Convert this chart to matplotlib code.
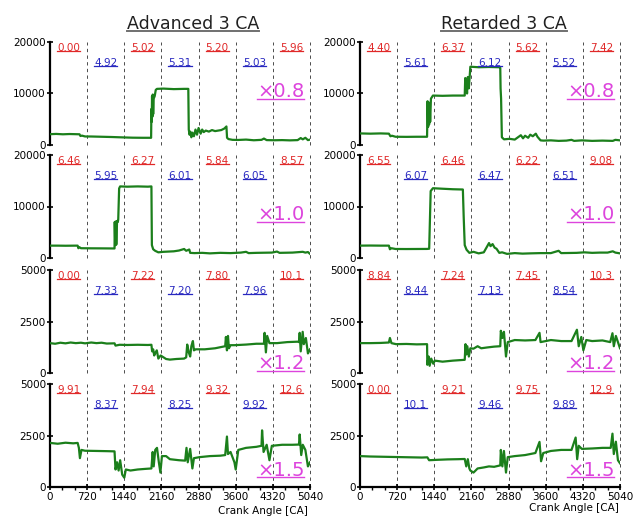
import matplotlib
matplotlib.use('Agg')
import matplotlib.pyplot as plt
from matplotlib.lines import Line2D
from matplotlib.ticker import MultipleLocator, FixedLocator

plt.rcParams['font.family'] = ['DejaVu Sans']

# ── 데이터 ──
TITLES = ['Advanced 3 CA', 'Retarded 3 CA']
FACTORS = ['×0.8', '×1.0', '×1.2', '×1.5']
Y_MAX = [20000, 20000, 5000, 5000]
SEG_LINES = [720, 1440, 2160, 2880, 3600, 4320, 5040]
RED_X = [360, 1800, 3240, 4680]
BLUE_X = [1080, 2520, 3960]
X_TICKS = [0, 720, 1440, 2160, 2880, 3600, 4320, 5040]

ADV_RED = [['0.00', '5.02', '5.20', '5.96'],
           ['6.46', '6.27', '5.84', '8.57'],
           ['0.00', '7.22', '7.80', '10.1'],
           ['9.91', '7.94', '9.32', '12.6']]
ADV_BLUE = [['4.92', '5.31', '5.03'],
            ['5.95', '6.01', '6.05'],
            ['7.33', '7.20', '7.96'],
            ['8.37', '8.25', '9.92']]
RET_RED = [['4.40', '6.37', '5.62', '7.42'],
           ['6.55', '6.46', '6.22', '9.08'],
           ['8.84', '7.24', '7.45', '10.3'],
           ['0.00', '9.21', '9.75', '12.9']]
RET_BLUE = [['5.61', '6.12', '5.52'],
            ['6.07', '6.47', '6.51'],
            ['8.44', '7.13', '8.54'],
            ['10.1', '9.46', '9.89']]

# (crank angle, value) 트레이스
ADV_08 = [(0, 2100), (120, 2150), (250, 2080), (380, 2130), (500, 2100), (572, 2080),
          (590, 1750), (620, 1820), (679, 1660), (800, 1650), (1000, 1600), (1200, 1550),
          (1430, 1470), (1600, 1420), (1800, 1400), (1960, 1400), (1966, 7000), (1972, 4500),
          (1978, 9500), (1985, 5500), (1992, 9800), (2000, 6000), (2010, 9000), (2030, 9500),
          (2050, 10700), (2074, 10900), (2200, 10950), (2400, 10850), (2600, 10900),
          (2681, 10900), (2690, 3000), (2705, 2000), (2720, 2600), (2740, 1500), (2760, 2400),
          (2790, 1700), (2820, 3000), (2850, 2000), (2880, 3300), (2920, 2200), (2950, 3000),
          (2980, 2500), (3020, 2800), (3080, 2600), (3140, 2900), (3200, 2700), (3260, 2800),
          (3320, 2900), (3380, 3200), (3420, 3600), (3432, 1400), (3460, 1150), (3539, 1000),
          (3650, 980), (3800, 1050), (3950, 920), (4100, 1000), (4147, 1250), (4200, 950),
          (4350, 920), (4500, 950), (4650, 900), (4800, 950), (4860, 1350), (4900, 1100),
          (4950, 1400), (5000, 950), (5040, 1050)]
RET_08 = [(0, 2250), (200, 2200), (400, 2250), (560, 2200), (590, 1700), (620, 1800),
          (689, 1600), (900, 1580), (1100, 1600), (1300, 1600), (1310, 8500), (1320, 3500),
          (1330, 8000), (1340, 4000), (1350, 8200), (1360, 4500), (1375, 9000), (1414, 9600),
          (1600, 9550), (1800, 9600), (2030, 9600), (2040, 13000), (2050, 10500),
          (2060, 12800), (2075, 10000), (2090, 13200), (2110, 11000), (2139, 15200),
          (2300, 15100), (2500, 15150), (2700, 15100), (2719, 15000), (2725, 11000),
          (2735, 9000), (2750, 1500), (2791, 1100), (2900, 1200), (3000, 1050), (3118, 1900),
          (3160, 1300), (3200, 1800), (3260, 1400), (3300, 2000), (3350, 1700), (3408, 2200),
          (3440, 1600), (3500, 900), (3553, 850), (3700, 900), (3850, 800), (4000, 850),
          (4100, 1000), (4150, 800), (4300, 900), (4500, 800), (4700, 850), (4900, 800),
          (4950, 1000), (5040, 900)]
ADV_10 = [(0, 2400), (150, 2400), (300, 2380), (500, 2400), (536, 2400), (550, 1900),
          (570, 2100), (600, 1900), (800, 1880), (1000, 1870), (1251, 1850), (1255, 7000),
          (1265, 2500), (1275, 7100), (1285, 2600), (1300, 7200), (1315, 7000), (1323, 7500),
          (1340, 13500), (1359, 13900), (1500, 13850), (1700, 13900), (1900, 13850),
          (1966, 13900), (1975, 2500), (2000, 1700), (2038, 1400), (2100, 1100), (2200, 1200),
          (2300, 1250), (2400, 1300), (2500, 1450), (2600, 1750), (2640, 1400), (2700, 1650),
          (2717, 1000), (2800, 950), (2950, 1000), (3100, 900), (3300, 1000), (3500, 950),
          (3700, 1050), (3800, 1200), (3850, 950), (4000, 1000), (4300, 1050), (4400, 1250),
          (4450, 1000), (4700, 1050), (4900, 1200), (4950, 1050), (5000, 1150), (5040, 800)]
RET_10 = [(0, 2400), (200, 2420), (400, 2400), (560, 2400), (580, 1700), (610, 1900),
          (689, 1750), (900, 1740), (1100, 1750), (1300, 1760), (1341, 1800), (1370, 13000),
          (1414, 13550), (1600, 13450), (1800, 13350), (1994, 13300), (2010, 8000),
          (2030, 2500), (2066, 1600), (2120, 1000), (2200, 1200), (2300, 900), (2400, 1100),
          (2501, 2900), (2530, 2300), (2570, 2700), (2610, 2000), (2646, 1800), (2700, 1000),
          (2755, 1100), (2850, 800), (3000, 950), (3150, 850), (3300, 900), (3500, 950),
          (3700, 950), (3850, 1400), (3900, 950), (4200, 1000), (4350, 1100), (4500, 1000),
          (4650, 1050), (4800, 1050), (4900, 1300), (4950, 1050), (5040, 900)]
ADV_12 = [(0, 1450), (100, 1420), (200, 1470), (300, 1440), (400, 1480), (500, 1450),
          (600, 1470), (679, 1440), (800, 1480), (900, 1450), (1000, 1470), (1100, 1430),
          (1251, 1440), (1270, 1330), (1350, 1370), (1500, 1360), (1700, 1370), (1900, 1360),
          (1966, 1370), (1980, 1050), (2000, 1150), (2020, 850), (2038, 960), (2070, 1100),
          (2100, 700), (2145, 850), (2250, 680), (2324, 650), (2450, 680), (2600, 700),
          (2640, 760), (2660, 1380), (2690, 1000), (2717, 800), (2740, 1300), (2770, 1550),
          (2790, 1100), (2824, 1150), (3000, 1150), (3200, 1200), (3396, 1300), (3410, 1750),
          (3430, 1100), (3450, 1800), (3468, 1200), (3500, 1350), (3575, 1350), (3800, 1380),
          (4000, 1420), (4147, 1420), (4160, 1950), (4185, 1000), (4210, 1800), (4254, 1450),
          (4400, 1450), (4600, 1500), (4800, 1520), (4826, 1500), (4840, 1950), (4860, 1050),
          (4898, 2000), (4920, 1400), (4960, 1700), (5000, 950), (5040, 1150)]
RET_12 = [(0, 1450), (200, 1450), (400, 1460), (560, 1480), (580, 1700), (610, 1450),
          (700, 1400), (900, 1410), (1100, 1390), (1300, 1400), (1305, 400), (1330, 800),
          (1350, 350), (1380, 700), (1420, 450), (1450, 600), (1600, 550), (1800, 600),
          (2030, 640), (2045, 1400), (2060, 900), (2080, 1300), (2110, 800), (2139, 1200),
          (2200, 1180), (2280, 1300), (2350, 1200), (2465, 1240), (2600, 1280), (2719, 1300),
          (2730, 2050), (2760, 1700), (2790, 2000), (2830, 800), (2864, 1500), (3000, 1600),
          (3200, 1580), (3400, 1600), (3480, 1950), (3500, 1500), (3600, 1550), (3700, 1600),
          (3900, 1550), (4100, 1550), (4205, 2100), (4240, 1300), (4290, 1750), (4330, 1100),
          (4386, 1600), (4500, 1550), (4700, 1580), (4850, 1500), (4894, 1930), (4920, 1300),
          (4960, 1800), (5000, 1500), (5040, 1200)]
ADV_15 = [(0, 2140), (150, 2100), (300, 2150), (450, 2120), (536, 2140), (560, 1900),
          (580, 1400), (610, 1800), (679, 1760), (900, 1750), (1100, 1740), (1251, 1730),
          (1270, 850), (1300, 1200), (1330, 800), (1360, 1300), (1400, 600), (1440, 450),
          (1470, 850), (1560, 800), (1700, 850), (1850, 880), (1966, 900), (1990, 1700),
          (2010, 1000), (2040, 1800), (2074, 1900), (2110, 1200), (2140, 700), (2170, 1500),
          (2250, 1500), (2324, 1350), (2500, 1300), (2620, 1280), (2646, 1900), (2670, 1200),
          (2717, 1850), (2760, 900), (2790, 1400), (2900, 1450), (3100, 1500), (3300, 1520),
          (3396, 1550), (3430, 2450), (3450, 1600), (3500, 1700), (3575, 1200), (3600, 850),
          (3650, 1800), (3800, 1900), (4000, 1950), (4100, 2000), (4111, 2750), (4140, 1700),
          (4200, 2050), (4254, 1300), (4300, 2000), (4500, 2050), (4700, 2050), (4826, 2060),
          (4840, 2550), (4870, 1550), (4900, 2050), (4950, 1800), (5000, 1000), (5040, 1200)]
RET_15 = [(0, 1500), (200, 1480), (400, 1470), (600, 1460), (800, 1450), (1000, 1440),
          (1200, 1430), (1305, 1440), (1340, 1300), (1500, 1320), (1700, 1340), (1900, 1350),
          (2030, 1360), (2060, 1000), (2090, 1350), (2120, 900), (2139, 800), (2200, 700),
          (2280, 900), (2400, 950), (2500, 1000), (2600, 980), (2719, 1050), (2730, 1800),
          (2760, 1000), (2790, 1750), (2830, 700), (2864, 1450), (3000, 1500), (3200, 1550),
          (3400, 1650), (3480, 2190), (3510, 1250), (3553, 1650), (3700, 1750), (3900, 1800),
          (4100, 1800), (4180, 2400), (4210, 1350), (4240, 2000), (4300, 1850), (4500, 1870),
          (4700, 1900), (4860, 1900), (4894, 2590), (4920, 1600), (4960, 2200), (5000, 1300),
          (5040, 1150)]

TRACES = [[ADV_08, RET_08], [ADV_10, RET_10], [ADV_12, RET_12], [ADV_15, RET_15]]
RED = [ADV_RED, RET_RED]
BLUE = [ADV_BLUE, RET_BLUE]

# ── 레이아웃 (픽셀) ──
W, H = 635, 517
COL_X = [50, 360]
AX_W = 260
ROW_BOTTOM = [145, 258, 373, 487]
AX_H = 103
FACTOR_Y = [0.52, 0.42, 0.09, 0.165]

GREEN = '#1b7f1b'
RED_C = '#e02828'
BLUE_C = '#2828c0'
MAG_C = '#dd44dd'

fig = plt.figure(figsize=(W / 100, H / 100), dpi=100)
underlined = []  # (text, color, lw)

for c in range(2):
    for r in range(4):
        ax = fig.add_axes([COL_X[c] / W, 1 - ROW_BOTTOM[r] / H, AX_W / W, AX_H / H])
        pts = TRACES[r][c]
        ax.plot([p[0] for p in pts], [p[1] for p in pts], color=GREEN, lw=1.6, zorder=3)
        for xv in SEG_LINES:
            ax.axvline(xv, color='#303030', lw=0.6, ls=(0, (4, 4)), clip_on=False, zorder=1)
        ax.set_xlim(0, 5040)
        ax.set_ylim(0, Y_MAX[r])
        for s in ['top', 'right']:
            ax.spines[s].set_visible(False)
        ax.spines['left'].set_linewidth(1.6)
        ax.yaxis.set_major_locator(FixedLocator([0, Y_MAX[r] / 2, Y_MAX[r]]))
        ax.set_yticklabels(['0', str(Y_MAX[r] // 2), str(Y_MAX[r])])
        ax.tick_params(axis='y', direction='inout', length=5, width=1.2, pad=0.5,
                       labelsize=7.5)
        if r == 3:
            ax.spines['bottom'].set_linewidth(1.6)
            ax.set_xticks(X_TICKS)
            ax.xaxis.set_minor_locator(MultipleLocator(240))
            ax.tick_params(axis='x', which='major', direction='inout', length=5,
                           width=1.2, labelsize=7.5, pad=1)
            ax.tick_params(axis='x', which='minor', direction='out', length=2.5, width=1)
        else:
            ax.spines['bottom'].set_visible(False)
            ax.tick_params(axis='x', which='both', bottom=False, labelbottom=False)
        ax.patch.set_alpha(0)

        for xv, s in zip(RED_X, RED[c][r]):
            t = ax.text(xv, 0.945, s, transform=ax.get_xaxis_transform(), ha='center',
                        va='center', fontsize=7.5, color=RED_C, zorder=4)
            underlined.append((t, RED_C, 0.9))
        for xv, s in zip(BLUE_X, BLUE[c][r]):
            t = ax.text(xv, 0.80, s, transform=ax.get_xaxis_transform(), ha='center',
                        va='center', fontsize=7.5, color=BLUE_C, zorder=4)
            underlined.append((t, BLUE_C, 0.9))
        t = ax.text(4470, FACTOR_Y[r], FACTORS[r], transform=ax.get_xaxis_transform(),
                    ha='center', va='center', fontsize=14, color=MAG_C, zorder=4)
        underlined.append((t, MAG_C, 1.0))

for c in range(2):
    cx = [193, 504][c]
    t = fig.text(cx / W, 1 - 24 / H, TITLES[c], ha='center', va='center',
                 fontsize=12.5, color='#202020')
    underlined.append((t, '#707070', 1.4))

fig.text(263 / W, 1 - 506 / H, 'Crank Angle [CA]', ha='center', va='top', fontsize=7.5)
fig.text(574 / W, 1 - 503 / H, 'Crank Angle [CA]', ha='center', va='top', fontsize=7.5)

# 밑줄 그리기
fig.canvas.draw()
renderer = fig.canvas.get_renderer()
inv = fig.transFigure.inverted()
for t, col, lw in underlined:
    bb = t.get_window_extent(renderer)
    yb = bb.y0 + 0.12 * t.get_fontsize() * 100 / 72
    (x0, y0), (x1, _) = inv.transform([(bb.x0, yb), (bb.x1, yb)])
    fig.add_artist(Line2D([x0, x1], [y0, y0], transform=fig.transFigure,
                          color=col, lw=lw, zorder=5))

fig.savefig('out.png', dpi=100)
